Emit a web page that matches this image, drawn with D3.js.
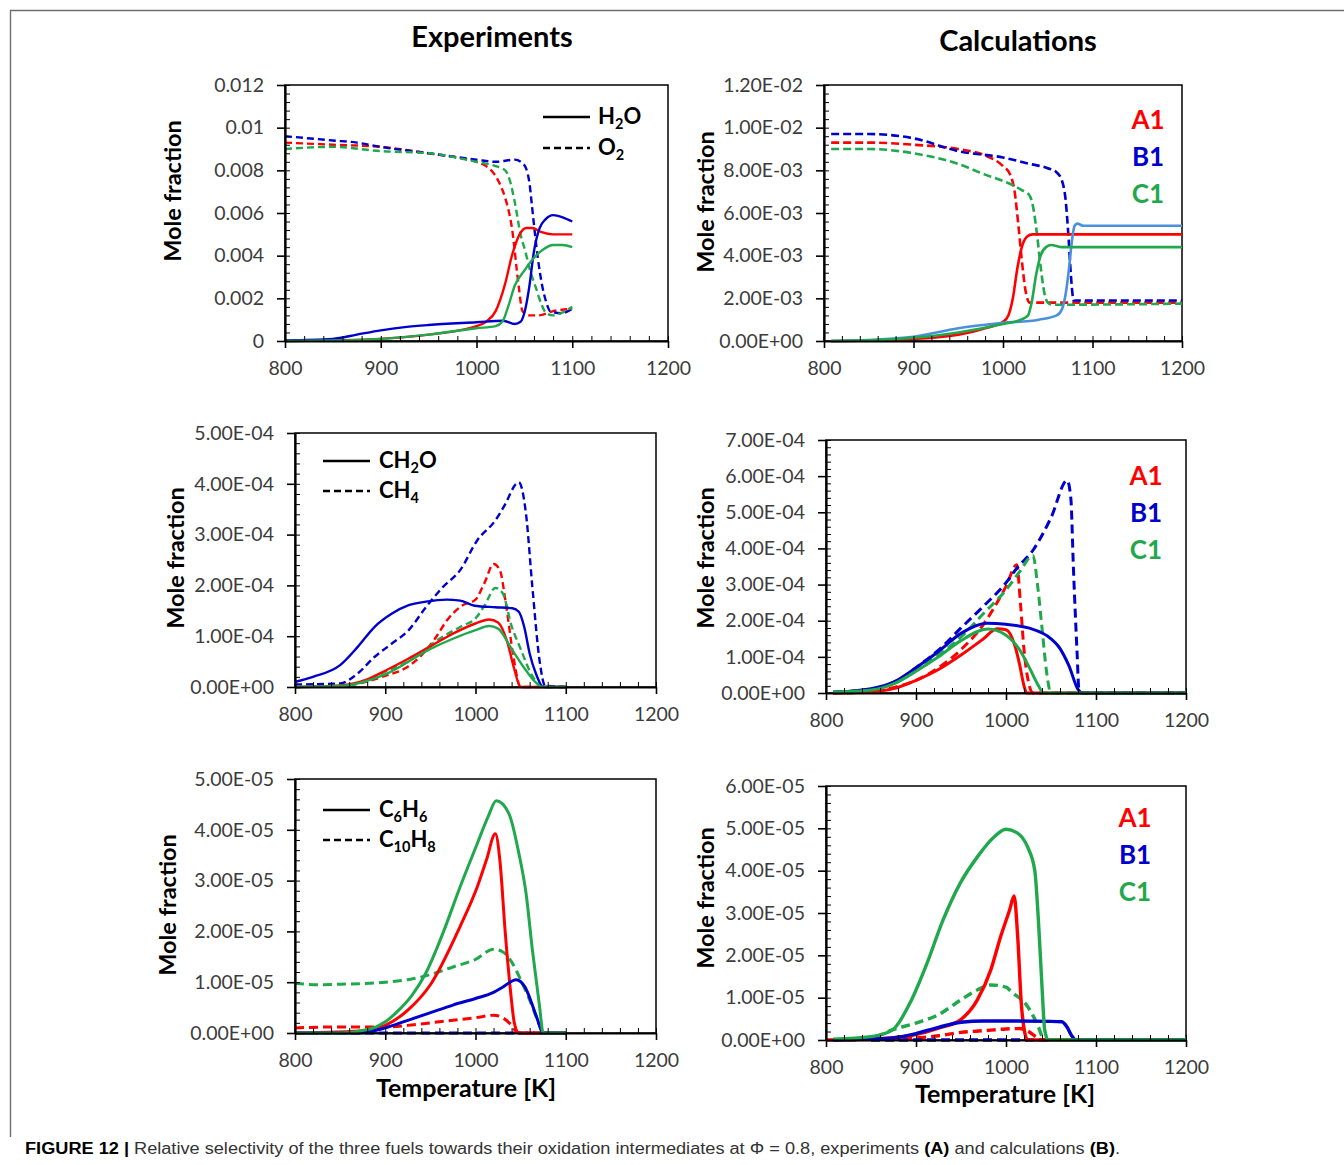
<!DOCTYPE html>
<html>
<head>
<meta charset="utf-8">
<script src="https://cdn.jsdelivr.net/npm/d3@7/dist/d3.min.js"></script>
<style>
  body { margin: 0; background: #fff; }
  svg { display: block; }
  text { font-family: Lato, 'Open Sans', sans-serif; }
</style>
</head>
<body>
<svg id="fig" width="1344" height="1165"></svg>
<script>
// ---- data (temperature K, mole fraction in the panel's unit) ----
var xMajor = [800, 900, 1000, 1100, 1200];

// Experiments: H2O / O2  (unit 1)
var expO2A1 = [[800,0.0093],[850,0.0092],[900,0.0091],[950,0.0088],[980,0.0086],[1000,0.0084],[1010,0.0082],[1019,0.0078],[1025,0.0073],[1030,0.0067],[1037,0.0053],[1044,0.0026],[1048,0.0014],[1055,0.0012],[1065,0.0012],[1080,0.0014],[1100,0.0015]];
var expO2B1 = [[800,0.0096],[850,0.0094],[875,0.0093],[900,0.0091],[950,0.0088],[1000,0.0085],[1020,0.0084],[1040,0.0085],[1049,0.0083],[1055,0.0075],[1058,0.0063],[1064,0.0039],[1069,0.0025],[1073,0.0018],[1077,0.0014],[1088,0.0013],[1100,0.0015]];
var expO2C1 = [[800,0.0090],[850,0.0091],[900,0.0089],[950,0.0088],[1000,0.0084],[1020,0.0082],[1030,0.0080],[1035,0.0075],[1040,0.0065],[1046,0.0050],[1051,0.0042],[1056,0.0033],[1062,0.0025],[1068,0.0017],[1073,0.0013],[1080,0.0012],[1088,0.0013],[1100,0.0016]];
var expH2OA1 = [[800,0],[850,0.00003],[900,0.0001],[950,0.0003],[1000,0.0007],[1010,0.0009],[1020,0.0014],[1030,0.0027],[1037,0.0040],[1045,0.0050],[1052,0.0053],[1058,0.0053],[1068,0.0051],[1080,0.0050],[1100,0.0050]];
var expH2OB1 = [[800,0.00003],[850,0.0001],[875,0.0003],[900,0.0005],[925,0.00065],[950,0.00075],[1000,0.00088],[1028,0.00095],[1040,0.0008],[1046,0.0009],[1051,0.0015],[1055,0.0025],[1060,0.0042],[1066,0.0053],[1072,0.0057],[1080,0.0059],[1090,0.0058],[1100,0.0056]];
var expH2OC1 = [[800,0],[850,0.00002],[900,0.0001],[950,0.0003],[1000,0.0006],[1020,0.0007],[1027,0.0009],[1033,0.0016],[1040,0.0026],[1050,0.0033],[1060,0.0039],[1070,0.0043],[1080,0.0045],[1090,0.0045],[1100,0.0044]];

// Calculations: H2O / O2  (unit 1)
var calO2A1 = [[808,0.0093],[850,0.0093],[900,0.0092],[950,0.0090],[980,0.0087],[1000,0.0082],[1008,0.0078],[1013,0.0070],[1017,0.0055],[1021,0.0038],[1025,0.0024],[1030,0.0018],[1050,0.0018],[1200,0.0018]];
var calO2B1 = [[808,0.0097],[850,0.0097],[900,0.0095],[950,0.0089],[1000,0.0086],[1030,0.0083],[1050,0.0081],[1060,0.0079],[1066,0.0075],[1070,0.0066],[1073,0.0050],[1076,0.0030],[1079,0.0019],[1085,0.0019],[1200,0.0019]];
var calO2C1 = [[808,0.0090],[850,0.0090],[900,0.0088],[950,0.0083],[980,0.0078],[1000,0.0075],[1020,0.0071],[1030,0.0068],[1034,0.0062],[1038,0.0050],[1042,0.0035],[1046,0.0023],[1050,0.0018],[1055,0.0017],[1200,0.00175]];
var calH2OA1 = [[808,0],[850,0.00002],[900,0.0001],[950,0.0003],[980,0.0006],[1000,0.0009],[1006,0.0012],[1011,0.0020],[1016,0.0034],[1021,0.0044],[1027,0.0049],[1033,0.0050],[1200,0.0050]];
var calH2OB1 = [[808,0],[850,0.00005],[900,0.0002],[950,0.0006],[1000,0.00085],[1040,0.0010],[1060,0.0012],[1066,0.0015],[1070,0.0022],[1074,0.0035],[1077,0.0047],[1080,0.0054],[1083,0.0055],[1090,0.0054],[1200,0.0054]];
var calH2OC1 = [[808,0],[850,0.00003],[900,0.00015],[950,0.0004],[1000,0.0008],[1020,0.0010],[1028,0.0012],[1032,0.0018],[1037,0.0031],[1042,0.0040],[1048,0.0044],[1054,0.0045],[1065,0.0044],[1200,0.0044]];

// Experiments: CH2O / CH4  (unit 1e-4)
var expCH2OA1 = [[800,0],[850,0.03],[880,0.15],[900,0.32],[925,0.55],[950,0.8],[975,1.05],[1000,1.25],[1015,1.33],[1025,1.27],[1035,0.9],[1043,0.35],[1050,0],[1100,0]];
var expCH2OB1 = [[800,0.1],[820,0.2],[850,0.43],[870,0.8],[888,1.18],[907,1.44],[926,1.61],[945,1.68],[968,1.72],[983,1.7],[999,1.6],[1022,1.57],[1041,1.55],[1048,1.48],[1054,1.18],[1060,0.66],[1067,0.26],[1075,0],[1100,0]];
var expCH2OC1 = [[800,0],[850,0.02],[900,0.25],[950,0.75],[975,0.95],[1000,1.12],[1015,1.2],[1025,1.15],[1040,0.75],[1055,0.35],[1065,0.12],[1075,0],[1100,0]];
var expCH4A1 = [[800,0],[850,0.02],[900,0.22],[925,0.4],[940,0.62],[955,0.95],[970,1.35],[985,1.6],[1000,1.72],[1010,2.05],[1020,2.42],[1027,2.3],[1034,1.6],[1042,0.6],[1050,0],[1100,0]];
var expCH4B1 = [[800,0.05],[850,0.07],[869,0.26],[888,0.59],[907,0.85],[926,1.12],[945,1.57],[964,1.97],[983,2.3],[1002,2.89],[1022,3.28],[1033,3.6],[1045,4.0],[1048,4.03],[1056,3.4],[1063,1.97],[1071,0.52],[1077,0.03],[1100,0]];
var expCH4C1 = [[800,0],[860,0.03],[900,0.3],[930,0.55],[960,0.95],[985,1.2],[1000,1.35],[1010,1.6],[1022,1.95],[1030,1.85],[1040,1.2],[1050,0.75],[1062,0.25],[1075,0],[1100,0]];

// Calculations: CH2O / CH4  (unit 1e-4)
var calCH2OA1 = [[808,0],[850,0.03],[875,0.12],[900,0.35],[925,0.65],[950,1.05],[975,1.5],[990,1.78],[1000,1.75],[1010,1.3],[1015,0.8],[1020,0.2],[1023,0],[1200,0]];
var calCH2OB1 = [[808,0.02],[850,0.12],[875,0.3],[900,0.7],[925,1.15],[950,1.65],[979,1.93],[1000,1.9],[1025,1.8],[1050,1.5],[1058,1.3],[1070,0.75],[1080,0.1],[1085,0],[1200,0]];
var calCH2OC1 = [[808,0.02],[850,0.08],[875,0.25],[900,0.6],[925,1.0],[950,1.45],[980,1.77],[1000,1.6],[1015,1.2],[1025,0.75],[1035,0.25],[1042,0],[1200,0]];
var calCH4A1 = [[808,0],[850,0.03],[875,0.15],[900,0.35],[925,0.7],[950,1.2],[975,1.9],[990,2.5],[1000,2.95],[1012,3.55],[1016,2.5],[1020,1.2],[1025,0.3],[1030,0],[1200,0]];
var calCH4B1 = [[808,0.02],[850,0.1],[880,0.35],[900,0.7],[930,1.3],[950,1.8],[975,2.4],[1000,3.05],[1012,3.45],[1030,3.95],[1050,4.85],[1068,5.88],[1072,5.4],[1075,3.4],[1079,1.1],[1081,0.1],[1085,0],[1200,0]];
var calCH4C1 = [[808,0.02],[850,0.1],[875,0.3],[900,0.65],[925,1.05],[950,1.55],[975,2.2],[1000,2.85],[1015,3.35],[1030,3.8],[1035,3.0],[1040,1.8],[1045,0.6],[1050,0],[1200,0]];

// Experiments: C6H6 / C10H8  (unit 1e-5)
var expC6H6A1 = [[800,0],[880,0.05],[900,0.15],[925,0.45],[950,0.95],[983,2.1],[1002,2.88],[1012,3.4],[1022,3.92],[1027,3.4],[1033,1.97],[1039,0.79],[1043,0.2],[1048,0],[1100,0]];
var expC6H6B1 = [[800,0],[870,0],[900,0.1],[925,0.25],[950,0.4],[975,0.55],[1000,0.68],[1020,0.8],[1030,0.9],[1045,1.05],[1055,0.9],[1062,0.6],[1068,0.3],[1075,0],[1100,0]];
var expC6H6C1 = [[800,0],[850,0],[875,0.05],[890,0.12],[900,0.22],[915,0.45],[930,0.75],[945,1.18],[964,1.97],[983,2.88],[1002,3.73],[1014,4.26],[1023,4.57],[1037,4.32],[1048,3.54],[1056,2.75],[1063,1.64],[1071,0.52],[1075,0],[1100,0]];
var expC10H8A1 = [[800,0.1],[850,0.12],[900,0.12],[925,0.15],[950,0.2],[975,0.25],[1000,0.3],[1020,0.35],[1030,0.3],[1040,0.15],[1045,0.03],[1050,0],[1100,0]];
var expC10H8B1 = [[800,0],[900,0],[1000,0],[1100,0]];
var expC10H8C1 = [[800,0.98],[825,0.95],[850,0.96],[900,1.0],[925,1.05],[950,1.15],[975,1.3],[1000,1.45],[1020,1.65],[1030,1.6],[1040,1.4],[1050,1.05],[1060,0.65],[1070,0.2],[1075,0],[1100,0]];

// Calculations: C6H6 / C10H8  (unit 1e-5)
var calC6H6A1 = [[800,0],[850,0.02],[900,0.13],[925,0.28],[949,0.47],[968,0.94],[983,1.65],[994,2.44],[1004,3.07],[1009,3.4],[1013,2.44],[1017,0.86],[1021,0.16],[1024,0],[1200,0]];
var calC6H6B1 = [[808,0],[850,0.02],[875,0.05],[900,0.15],[925,0.3],[950,0.42],[975,0.45],[1000,0.45],[1050,0.44],[1062,0.43],[1068,0.3],[1073,0.1],[1078,0],[1200,0]];
var calC6H6C1 = [[808,0.02],[850,0.08],[874,0.24],[893,0.86],[912,1.8],[930,2.83],[949,3.7],[968,4.32],[987,4.8],[1000,4.98],[1012,4.9],[1024,4.56],[1032,4.0],[1036,2.83],[1040,1.26],[1043,0.24],[1047,0],[1200,0]];
var calC10H8A1 = [[808,0],[900,0.05],[925,0.1],[950,0.18],[975,0.22],[1000,0.26],[1015,0.27],[1025,0.2],[1035,0.05],[1040,0],[1200,0]];
var calC10H8B1 = [[850,0],[950,0],[1050,0]];
var calC10H8C1 = [[808,0],[850,0.05],[875,0.25],[900,0.4],[925,0.6],[950,0.95],[968,1.18],[983,1.3],[1000,1.25],[1006,1.14],[1024,0.79],[1036,0.31],[1041,0.05],[1045,0],[1200,0]];

var fuelLabels = ['A1', 'B1', 'C1'];

// ---- styling ----
var RED = '#ff0000', BLUE = '#0000cc', GREEN = '#1fa84c', SKY = '#4a90dc';
var svg = d3.select('#fig');

function sciFormat(v) {
  if (Math.abs(v) < 1e-12) return '0.00E+00';
  var e = Math.floor(Math.log10(v) + 1e-9);
  var m = v / Math.pow(10, e);
  return m.toFixed(2) + 'E' + (e < 0 ? '-' : '+') + String(Math.abs(e)).padStart(2, '0');
}
function plainFormat(v) {
  return Math.abs(v) < 1e-12 ? '0' : String(+v.toFixed(4));
}

function renderPanel({ box, yMax, yStep, unit = 1, fmt, series, width, dash }) {
  var [left, top, right, bottom] = box;
  var x = d3.scaleLinear().domain([800, 1200]).range([left, right]);
  var y = d3.scaleLinear().domain([0, yMax]).range([bottom, top]);
  var g = svg.append('g');

  var yMajor = d3.range(0, yMax + yStep / 2, yStep);
  var yMinor = d3.range(0, yMax + yStep / 10, yStep / 5);
  var xMinor = d3.range(800, 1201, 20);

  g.append('rect')
    .attr('x', left).attr('y', top)
    .attr('width', right - left).attr('height', bottom - top)
    .attr('fill', 'none').attr('stroke', '#000').attr('stroke-width', 1.5);

  var line = d3.line()
    .x(d => x(d[0]))
    .y(d => y(d[1]))
    .curve(d3.curveMonotoneX);

  g.selectAll('path.series')
    .data(series)
    .enter()
    .append('path')
    .attr('class', 'series')
    .attr('d', d => line(d.data))
    .attr('fill', 'none')
    .attr('stroke', d => d.color)
    .attr('stroke-width', width)
    .attr('stroke-linejoin', 'round')
    .attr('stroke-dasharray', d => (d.dashed ? dash : null));

  // minor ticks point inward
  g.append('g')
    .attr('transform', `translate(${left},0)`)
    .call(d3.axisRight(y).tickValues(yMinor).tickSize(5).tickFormat(''))
    .call(s => s.select('.domain').remove());
  g.append('g')
    .attr('transform', `translate(0,${bottom})`)
    .call(d3.axisTop(x).tickValues(xMinor).tickSize(5).tickFormat(''))
    .call(s => s.select('.domain').remove());

  var yAxis = g.append('g')
    .attr('transform', `translate(${left},0)`)
    .call(d3.axisLeft(y).tickValues(yMajor).tickSize(8).tickSizeOuter(0).tickPadding(13)
      .tickFormat(v => fmt(v * unit)));
  var xAxis = g.append('g')
    .attr('transform', `translate(0,${bottom})`)
    .call(d3.axisBottom(x).tickValues(xMajor).tickSize(7).tickSizeOuter(0).tickPadding(13)
      .tickFormat(d3.format('d')));

  [yAxis, xAxis].forEach(a => {
    a.select('.domain').attr('stroke-width', 2.2);
    a.selectAll('.tick line').attr('stroke-width', 1.6);
    a.selectAll('text').attr('font-size', 19.5).attr('fill', '#3c3c3c')
      .style('font-family', 'Lato, sans-serif');
  });
  g.selectAll('.tick line').attr('stroke', '#000');
  return g;
}

function addText(parent, x, y, parts, opts) {
  var t = parent.append('text')
    .attr('x', x).attr('y', y)
    .attr('font-size', opts.size)
    .attr('font-weight', opts.weight || 'bold')
    .attr('fill', opts.fill || '#000')
    .attr('text-anchor', opts.anchor || 'start');
  if (opts.rotate) t.attr('transform', `rotate(-90,${x},${y})`);
  var shift = 0;
  parts.forEach(p => {
    var sub = Array.isArray(p);
    var txt = sub ? p[0] : p;
    var dy = sub ? opts.size * 0.22 - shift : -shift;
    shift = sub ? opts.size * 0.22 : 0;
    t.append('tspan')
      .attr('dy', dy)
      .attr('font-size', sub ? opts.size * 0.66 : null)
      .text(txt);
  });
  return t;
}

function renderKey({ x1, x2, tx, rows }) {
  rows.forEach(r => {
    svg.append('line')
      .attr('x1', x1).attr('x2', x2).attr('y1', r.y).attr('y2', r.y)
      .attr('stroke', '#000').attr('stroke-width', 2.6)
      .attr('stroke-dasharray', r.dashed ? '7,4' : null);
    addText(svg, tx, r.y + 7, r.label, { size: 22 });
  });
}

function renderFuelKey(cx, ys) {
  [RED, BLUE, GREEN].forEach((c, i) => {
    addText(svg, cx, ys[i] + 9, [fuelLabels[i]], { size: 26, fill: c, anchor: 'middle' });
  });
}

function yTitle(x, y) {
  addText(svg, x, y, ['Mole fraction'], { size: 23.5, anchor: 'middle', rotate: true });
}

// frame around the figure
svg.append('path')
  .attr('d', 'M10.5,1137 V10.5 H1344')
  .attr('fill', 'none').attr('stroke', '#6e6e6e').attr('stroke-width', 1.4);

addText(svg, 492, 47, ['Experiments'], { size: 29, anchor: 'middle' });
addText(svg, 1018, 51, ['Calculations'], { size: 29, anchor: 'middle' });

function trio(a, b, c, dashed) {
  return [
    { data: a, color: RED, dashed },
    { data: b, color: BLUE, dashed },
    { data: c, color: GREEN, dashed }
  ];
}

renderPanel({
  box: [285, 85, 668, 341], yMax: 0.012, yStep: 0.002, fmt: plainFormat,
  width: 2.4, dash: '7,4',
  series: trio(expO2A1, expO2B1, expO2C1, true).concat(trio(expH2OA1, expH2OB1, expH2OC1, false))
});
renderPanel({
  box: [824, 85, 1182, 341], yMax: 0.012, yStep: 0.002, fmt: sciFormat,
  width: 2.6, dash: '8,4',
  series: trio(calO2A1, calO2B1, calO2C1, true).concat([
    { data: calH2OA1, color: RED },
    { data: calH2OB1, color: SKY },
    { data: calH2OC1, color: GREEN }
  ])
});
renderPanel({
  box: [295, 433, 656, 687], yMax: 5, yStep: 1, unit: 1e-4, fmt: sciFormat,
  width: 2.4, dash: '7,4',
  series: trio(expCH4A1, expCH4B1, expCH4C1, true).concat(trio(expCH2OA1, expCH2OB1, expCH2OC1, false))
});
renderPanel({
  box: [826, 440, 1186, 693], yMax: 7, yStep: 1, unit: 1e-4, fmt: sciFormat,
  width: 3, dash: '9,5',
  series: trio(calCH4A1, calCH4B1, calCH4C1, true).concat(trio(calCH2OA1, calCH2OB1, calCH2OC1, false))
});
renderPanel({
  box: [295, 779, 656, 1033], yMax: 5, yStep: 1, unit: 1e-5, fmt: sciFormat,
  width: 3, dash: '9,5',
  series: trio(expC10H8A1, expC10H8B1, expC10H8C1, true).concat(trio(expC6H6A1, expC6H6B1, expC6H6C1, false))
});
renderPanel({
  box: [826, 786, 1186, 1040], yMax: 6, yStep: 1, unit: 1e-5, fmt: sciFormat,
  width: 3.4, dash: '9,5',
  series: trio(calC10H8A1, calC10H8B1, calC10H8C1, true).concat(trio(calC6H6A1, calC6H6B1, calC6H6C1, false))
});

renderKey({ x1: 543, x2: 590, tx: 598, rows: [
  { y: 117, label: ['H', ['2'], 'O'] },
  { y: 148, label: ['O', ['2']], dashed: true }
] });
renderKey({ x1: 323, x2: 370, tx: 379, rows: [
  { y: 461, label: ['CH', ['2'], 'O'] },
  { y: 491, label: ['CH', ['4']], dashed: true }
] });
renderKey({ x1: 323, x2: 370, tx: 379, rows: [
  { y: 810, label: ['C', ['6'], 'H', ['6']] },
  { y: 840, label: ['C', ['10'], 'H', ['8']], dashed: true }
] });

renderFuelKey(1148, [120, 157, 194]);
renderFuelKey(1146, [476, 513, 550]);
renderFuelKey(1135, [818, 855, 892]);

yTitle(181, 191);
yTitle(714, 202);
yTitle(184, 558);
yTitle(714, 558);
yTitle(176, 905);
yTitle(714, 898);

addText(svg, 466, 1097, ['Temperature [K]'], { size: 25, anchor: 'middle' });
addText(svg, 1005, 1103, ['Temperature [K]'], { size: 25, anchor: 'middle' });

// caption
var cap = svg.append('text')
  .attr('x', 25).attr('y', 1154)
  .attr('font-size', 16)
  .attr('textLength', 1095)
  .attr('lengthAdjust', 'spacingAndGlyphs')
  .style('font-family', "'Liberation Sans Narrow', 'Liberation Sans', Arial, sans-serif")
  .attr('fill', '#333');
[['FIGURE 12 | ', true], ['Relative selectivity of the three fuels towards their oxidation intermediates at \u03A6 = 0.8, experiments ', false],
 ['(A)', true], [' and calculations ', false], ['(B)', true], ['.', false]].forEach(p => {
  cap.append('tspan').attr('font-weight', p[1] ? 'bold' : null).attr('fill', p[1] ? '#000' : null).text(p[0]);
});
</script>
</body>
</html>
